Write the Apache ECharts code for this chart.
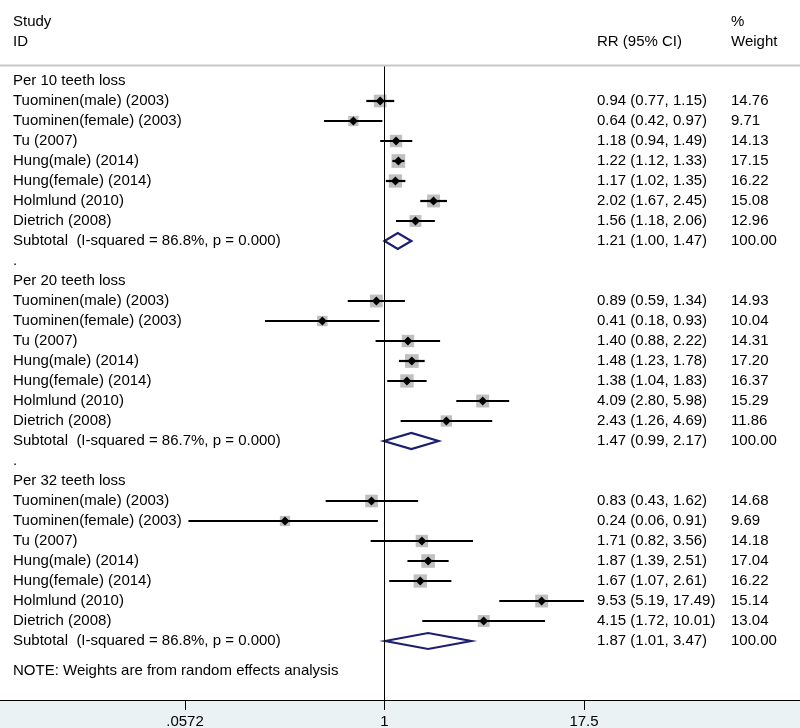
<!DOCTYPE html>
<html>
<head>
<meta charset="utf-8">
<script src="https://cdn.jsdelivr.net/npm/echarts@6/dist/echarts.min.js"></script>
<style>
  html, body { margin: 0; padding: 0; background: #fff; }
  #main { width: 800px; height: 728px; }
</style>
</head>
<body>
<div id="main"></div>
<script>
// chart data
var groups = ["Per 10 teeth loss", "Per 20 teeth loss", "Per 32 teeth loss"];
var studies = ["Tuominen(male) (2003)", "Tuominen(female) (2003)", "Tu (2007)",
  "Hung(male) (2014)", "Hung(female) (2014)", "Holmlund (2010)", "Dietrich (2008)"];

var rr10 = [0.94, 0.64, 1.18, 1.22, 1.17, 2.02, 1.56];
var lo10 = [0.77, 0.42, 0.94, 1.12, 1.02, 1.67, 1.18];
var hi10 = [1.15, 0.97, 1.49, 1.33, 1.35, 2.45, 2.06];
var w10 = [14.76, 9.71, 14.13, 17.15, 16.22, 15.08, 12.96];

var rr20 = [0.89, 0.41, 1.40, 1.48, 1.38, 4.09, 2.43];
var lo20 = [0.59, 0.18, 0.88, 1.23, 1.04, 2.80, 1.26];
var hi20 = [1.34, 0.93, 2.22, 1.78, 1.83, 5.98, 4.69];
var w20 = [14.93, 10.04, 14.31, 17.20, 16.37, 15.29, 11.86];

var rr32 = [0.83, 0.24, 1.71, 1.87, 1.67, 9.53, 4.15];
var lo32 = [0.43, 0.06, 0.82, 1.39, 1.07, 5.19, 1.72];
var hi32 = [1.62, 0.91, 3.56, 2.51, 2.61, 17.49, 10.01];
var w32 = [14.68, 9.69, 14.18, 17.04, 16.22, 15.14, 13.04];

var subRR = [1.21, 1.47, 1.87];
var subLo = [1.00, 0.99, 1.01];
var subHi = [1.47, 2.17, 3.47];
var iSquared = ["86.8", "86.7", "86.8"];
var pValue = "0.000";

var tickLabels = [".0572", "1", "17.5"];
var note = "NOTE: Weights are from random effects analysis";

var FONT = '"Liberation Sans", Arial, Helvetica, sans-serif';
var FS = 15;

var allRR = [rr10, rr20, rr32], allLo = [lo10, lo20, lo32];
var allHi = [hi10, hi20, hi32], allW = [w10, w20, w32];

// build rows
var leftRows = [], leftText = [];
var rightRows = [], rrText = [], wText = [];
var studyMarks = [], subMarks = [];
var row = 0;
groups.forEach(function (g, gi) {
  leftRows.push([1, row]); leftText.push(g); row++;
  studies.forEach(function (s, si) {
    var r = allRR[gi][si], l = allLo[gi][si], h = allHi[gi][si], w = allW[gi][si];
    leftRows.push([1, row]); leftText.push(s);
    rightRows.push([1, row]);
    rrText.push(r.toFixed(2) + " (" + l.toFixed(2) + ", " + h.toFixed(2) + ")");
    wText.push(w.toFixed(2));
    studyMarks.push([r, l, h, w, row]);
    row++;
  });
  leftRows.push([1, row]);
  leftText.push("Subtotal  (I-squared = " + iSquared[gi] + "%, p = " + pValue + ")");
  rightRows.push([1, row]);
  rrText.push(subRR[gi].toFixed(2) + " (" + subLo[gi].toFixed(2) + ", " + subHi[gi].toFixed(2) + ")");
  wText.push("100.00");
  subMarks.push([subRR[gi], subLo[gi], subHi[gi], row]);
  row++;
  if (gi < groups.length - 1) {
    leftRows.push([1, row]); leftText.push("."); row++;
  }
});
leftRows.push([1, row + 0.5]); leftText.push(note);

function textSeries(data, texts, x) {
  return {
    type: "custom",
    clip: false,
    silent: true,
    data: data,
    encode: { x: 0, y: 1 },
    renderItem: function (params, api) {
      var p = api.coord([1, api.value(1)]);
      return {
        type: "text",
        x: x, y: p[1],
        style: {
          text: texts[params.dataIndex],
          fill: "#000",
          fontSize: FS, fontFamily: FONT,
          align: "left", verticalAlign: "middle"
        }
      };
    }
  };
}

var myChart = echarts.init(document.getElementById("main"));

var option = {
  animation: false,
  backgroundColor: "#fff",
  grid: { left: 185, right: 216, top: 66, bottom: 28, containLabel: false, outerBoundsMode: "none" },
  xAxis: {
    type: "log",
    logBase: 17.5,
    min: 1 / 17.5,
    max: 17.5,
    position: "bottom",
    axisLine: { show: false, onZero: false },
    axisTick: { show: true, length: 10, lineStyle: { color: "#000", width: 1 } },
    splitLine: { show: false },
    axisLabel: {
      margin: 14,
      color: "#000",
      fontSize: FS,
      fontFamily: FONT,
      formatter: function (v, i) { return tickLabels[i]; }
    }
  },
  yAxis: {
    type: "value",
    inverse: true,
    min: -0.75,
    max: 30.95,
    show: false
  },
  graphic: [
    { type: "rect", z: -10, shape: { x: 0, y: 700, width: 800, height: 28 }, style: { fill: "#eaf2f3" } },
    { type: "line", z: 10, shape: { x1: 0, y1: 700.5, x2: 800, y2: 700.5 }, style: { stroke: "#000", lineWidth: 1 } },
    { type: "line", z: 10, shape: { x1: 0, y1: 65.5, x2: 800, y2: 65.5 }, style: { stroke: "#c8c8c8", lineWidth: 2 } },
    { type: "text", x: 13, y: 22, style: { text: "Study", fontSize: FS, fontFamily: FONT, fill: "#000", verticalAlign: "middle" } },
    { type: "text", x: 13, y: 42, style: { text: "ID", fontSize: FS, fontFamily: FONT, fill: "#000", verticalAlign: "middle" } },
    { type: "text", x: 597, y: 42, style: { text: "RR (95% CI)", fontSize: FS, fontFamily: FONT, fill: "#000", verticalAlign: "middle" } },
    { type: "text", x: 731, y: 22, style: { text: "%", fontSize: FS, fontFamily: FONT, fill: "#000", verticalAlign: "middle" } },
    { type: "text", x: 731, y: 42, style: { text: "Weight", fontSize: FS, fontFamily: FONT, fill: "#000", verticalAlign: "middle" } }
  ],
  series: [
    {
      // null line at RR = 1
      type: "line",
      data: [],
      markLine: {
        silent: true,
        symbol: "none",
        label: { show: false },
        lineStyle: { color: "#000", width: 1, type: "solid" },
        data: [{ xAxis: 1 }]
      }
    },
    {
      // study estimates: weight box, CI line, point marker
      type: "custom",
      clip: false,
      data: studyMarks,
      encode: { x: [0, 1, 2], y: 4 },
      renderItem: function (params, api) {
        var y = api.value(4);
        var c = api.coord([api.value(0), y]);
        var l = api.coord([api.value(1), y]);
        var h = api.coord([api.value(2), y]);
        var s = 3.3 * Math.sqrt(api.value(3));
        var d = 4.5;
        return {
          type: "group",
          children: [
            { type: "rect", shape: { x: c[0] - s / 2, y: c[1] - s / 2, width: s, height: s },
              style: { fill: "#bfbfbf" } },
            { type: "line", shape: { x1: l[0], y1: c[1], x2: h[0], y2: c[1] },
              style: { stroke: "#000", lineWidth: 2.2 } },
            { type: "polygon", shape: { points: [[c[0] - d, c[1]], [c[0], c[1] - d], [c[0] + d, c[1]], [c[0], c[1] + d]] },
              style: { fill: "#000" } }
          ]
        };
      }
    },
    {
      // pooled subtotal diamonds
      type: "custom",
      clip: false,
      data: subMarks,
      encode: { x: [0, 1, 2], y: 3 },
      renderItem: function (params, api) {
        var y = api.value(3);
        var c = api.coord([api.value(0), y]);
        var l = api.coord([api.value(1), y]);
        var h = api.coord([api.value(2), y]);
        var hh = 8;
        return {
          type: "polygon",
          shape: { points: [[l[0], c[1]], [c[0], c[1] - hh], [h[0], c[1]], [c[0], c[1] + hh]] },
          style: { fill: "#fff", stroke: "#1b1f6e", lineWidth: 2.2 }
        };
      }
    },
    textSeries(leftRows, leftText, 13),
    textSeries(rightRows, rrText, 597),
    textSeries(rightRows, wText, 731)
  ]
};

myChart.setOption(option);
</script>
</body>
</html>
